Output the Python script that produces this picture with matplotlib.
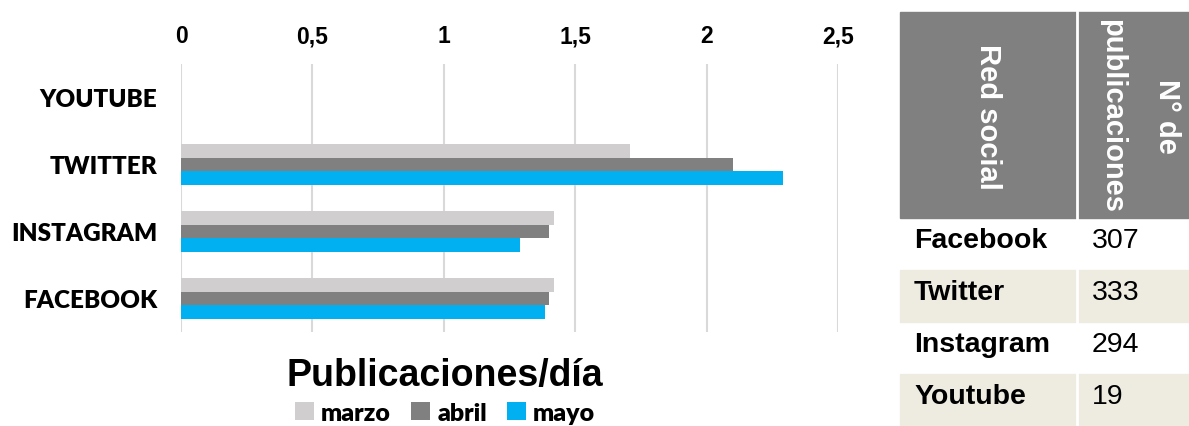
import matplotlib
matplotlib.use("Agg")
import matplotlib.pyplot as plt
from matplotlib.patches import Rectangle, Patch
import numpy as np

# ---- data ----
categories = ["FACEBOOK", "INSTAGRAM", "TWITTER", "YOUTUBE"]   # bottom -> top
marzo = [1.42, 1.42, 1.71, 0.0]
abril = [1.40, 1.40, 2.10, 0.0]
mayo = [1.385, 1.29, 2.29, 0.0]
series_names = ["marzo", "abril", "mayo"]
series_colors = ["#D0CECE", "#808080", "#00B0F0"]
xticks = [0, 0.5, 1, 1.5, 2, 2.5]
xtick_labels = ["0", "0,5", "1", "1,5", "2", "2,5"]
chart_title = "Publicaciones/día"

table_header = ["Red social", "N° de", "publicaciones"]
table_names = ["Facebook", "Twitter", "Instagram", "Youtube"]
table_counts = [307, 333, 294, 19]

W, H = 1189, 427
fig = plt.figure(figsize=(W / 100, H / 100), dpi=100)

# ---- bar chart ----
ax = fig.add_axes([181 / W, 1 - 333 / H, (838 - 181) / W, (333 - 65) / H])
y = np.arange(len(categories))
bh = 0.2
for vals, off, col, name in zip([marzo, abril, mayo], [bh, 0, -bh], series_colors, series_names):
    ax.barh(y + off, vals, height=bh, color=col, label=name, zorder=3)
ax.set_ylim(-0.5, len(categories) - 0.5)
ax.set_xlim(0, 2.5)
ax.set_xticks(xticks)
ax.set_xticklabels(xtick_labels)
ax.xaxis.tick_top()
ax.set_yticks(y)
ax.set_yticklabels(categories)
for s in ax.spines.values():
    s.set_visible(False)
ax.grid(axis="x", color="#D9D9D9", linewidth=1.5, zorder=0)
ax.tick_params(axis="x", length=0, pad=12, labelsize=16.5)
ax.tick_params(axis="y", length=0, pad=17, labelsize=17.5)
for lbl in ax.get_xticklabels():
    lbl.set_fontfamily("Liberation Sans")
    lbl.set_fontweight("bold")
for lbl in ax.get_yticklabels():
    lbl.set_fontfamily("Lato")
    lbl.set_fontweight("heavy")

fig.text(445 / W, 1 - 376 / H, chart_title, ha="center", va="center",
         fontsize=27, fontweight="bold", family="Liberation Sans")

handles = [Patch(facecolor=c, label=n) for c, n in zip(series_colors, series_names)]
fig.legend(handles=handles, loc="center", bbox_to_anchor=(445 / W, 1 - 414 / H),
           ncol=3, frameon=False, handlelength=0.75, handleheight=0.75,
           handletextpad=0.3, columnspacing=0.8,
           prop={"family": "Lato", "weight": "heavy", "size": 18})

# ---- table ----
tax = fig.add_axes([0, 0, 1, 1])
tax.set_xlim(0, W)
tax.set_ylim(H, 0)
tax.axis("off")
x0, xs, x1 = 900, 1077, W
hy0, hy1 = 13, 219
tax.add_patch(Rectangle((x0, hy0), x1 - x0, hy1 - hy0, color="#808080"))
tax.text((x0 + xs) / 2, (hy0 + hy1) / 2 + 1, table_header[0], rotation=-90, ha="center",
         va="center", color="white", fontsize=21, fontweight="bold", family="Liberation Sans")
tax.text(1167, (hy0 + hy1) / 2, table_header[1], rotation=-90, ha="center",
         va="center", color="white", fontsize=21, fontweight="bold", family="Liberation Sans")
tax.text(1112, (hy0 + hy1) / 2, table_header[2], rotation=-90, ha="center",
         va="center", color="white", fontsize=21, fontweight="bold", family="Liberation Sans")
row_h = (H - hy1) / len(table_names)
for i, (nm, cnt) in enumerate(zip(table_names, table_counts)):
    ry = hy1 + i * row_h
    if i % 2 == 1:
        tax.add_patch(Rectangle((x0, ry), x1 - x0, row_h, color="#EEECE1"))
    tax.text(914, ry + 22, nm, ha="left", va="center", fontsize=20.5,
             fontweight="bold", family="Liberation Sans", color="black")
    tax.text(1092, ry + 22, str(cnt), ha="left", va="center", fontsize=20.5,
             family="Liberation Sans", color="black")
tax.plot([xs, xs], [hy0, H], color="white", linewidth=2)

fig.savefig("out.png", dpi=100)
